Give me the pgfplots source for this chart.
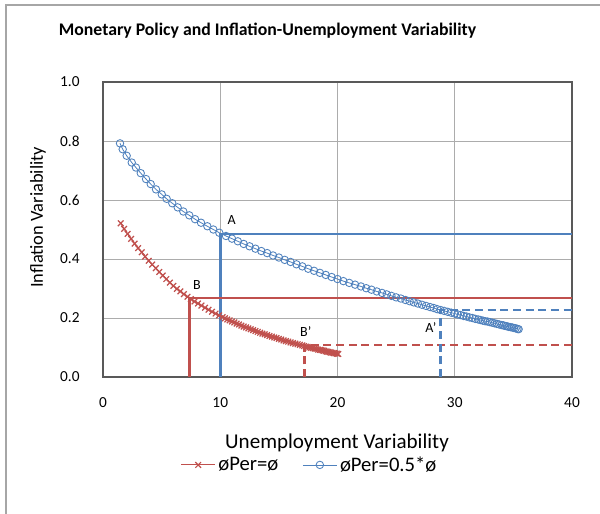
\documentclass[border=0pt]{standalone}
\usepackage{pgfplots}
\pgfplotsset{compat=1.18}
\usepackage{fontspec}
\setmainfont{Carlito}
\definecolor{xlblue}{HTML}{4F81BD}
\definecolor{xlred}{HTML}{C0504D}
\begin{document}
\begin{tikzpicture}
\useasboundingbox (0,0) rectangle (450pt,385.5pt);
\draw[gray!70, line width=0.8pt] (4.5pt,0) -- (4.5pt,381.75pt) -- (450pt,381.75pt);
\node[font=\fontsize{13.3}{15}\selectfont\bfseries] at (200.6pt,362.25pt) {Monetary Policy and Inflation-Unemployment Variability};
\begin{axis}[
  at={(77.25pt,102.75pt)}, anchor=south west,
  width=351.75pt, height=221.25pt, scale only axis,
  xmin=0, xmax=40, ymin=0, ymax=1,
  xtick={0,10,20,30,40}, ytick={0,0.2,0.4,0.6,0.8,1.0},
  yticklabel style={/pgf/number format/fixed, /pgf/number format/precision=1, /pgf/number format/fixed zerofill, xshift=-14pt},
  xticklabel style={yshift=-12pt},
  /pgf/number format/assume math mode=true,
  ticklabel style={font=\fontsize{11.5}{13}\selectfont},
  major tick length=0pt,
  grid=major, grid style={gray!65, line width=0.7pt},
  axis line style={black!65, line width=0.9pt},
  xlabel={Unemployment Variability}, ylabel={Inflation Variability},
  xlabel style={font=\fontsize{15.8}{18}\selectfont, at={(axis description cs:0.499,-0.224)}, anchor=center},
  ylabel style={font=\fontsize{13.8}{16}\selectfont, at={(axis description cs:-0.1386,0.541)}, anchor=center},
  legend style={at={(0.441,-0.298)}, anchor=center, draw=none, fill=none, legend columns=2, font=\fontsize{15.5}{17}\selectfont, /tikz/every even column/.append style={column sep=16pt}},
  legend image code/.code={\draw[mark repeat=2,mark phase=2,#1] plot coordinates {(0cm,0cm)(0.45cm,0cm)(0.9cm,0cm)};},
]
% reference lines
\addplot[xlblue, line width=1.9pt, forget plot] coordinates {(10,0) (10,0.484) (40,0.484)};
\addplot[xlred, line width=1.9pt, forget plot] coordinates {(7.36,0) (7.36,0.268) (40,0.268)};
\addplot[xlred, line width=1.9pt, dash pattern=on 6pt off 3.5pt, forget plot] coordinates {(17.2,0) (17.2,0.108) (40,0.108)};
\addplot[xlblue, line width=1.9pt, dash pattern=on 6pt off 3.5pt, forget plot] coordinates {(28.8,0) (28.8,0.227) (40,0.227)};
% red series
\addplot[xlred, line width=0.8pt, mark=x, mark size=3pt, mark options={line width=0.9pt}] coordinates {
(1.51,0.521) (1.80,0.502) (2.10,0.485) (2.40,0.468) (2.70,0.452) (3.00,0.437) (3.30,0.423) (3.60,0.408) (3.90,0.394) (4.20,0.381)
(4.50,0.369) (4.80,0.356) (5.10,0.344) (5.40,0.332) (5.70,0.320) (6.00,0.309) (6.30,0.299) (6.60,0.290) (6.90,0.281) (7.20,0.272)
(7.50,0.264) (7.80,0.256) (8.10,0.249) (8.40,0.242) (8.70,0.235) (9.00,0.228) (9.30,0.221) (9.60,0.215) (9.90,0.209) (10.20,0.203)
(10.40,0.199) (10.60,0.195) (10.80,0.192) (11.00,0.188) (11.20,0.185) (11.40,0.181) (11.60,0.178) (11.80,0.174) (12.00,0.171) (12.20,0.168)
(12.40,0.165) (12.60,0.162) (12.80,0.159) (13.00,0.156) (13.20,0.153) (13.40,0.150) (13.60,0.147) (13.80,0.145) (14.00,0.142) (14.20,0.139)
(14.40,0.137) (14.60,0.134) (14.80,0.132) (15.00,0.129) (15.20,0.127) (15.40,0.124) (15.60,0.122) (15.80,0.120) (16.00,0.117) (16.20,0.115)
(16.40,0.113) (16.60,0.111) (16.80,0.109) (17.00,0.107) (17.15,0.105) (17.30,0.103) (17.45,0.102) (17.60,0.100) (17.75,0.099) (17.90,0.098)
(18.05,0.096) (18.20,0.095) (18.35,0.093) (18.50,0.092) (18.62,0.091) (18.74,0.090) (18.86,0.089) (18.98,0.087) (19.10,0.086) (19.22,0.085)
(19.34,0.084) (19.46,0.083) (19.58,0.082) (19.70,0.081) (19.82,0.080) (19.94,0.079) (20.07,0.078)
};
\addlegendentry{øPer=ø}
% blue series
\addplot[xlblue, line width=0.6pt, mark=o, mark size=2.8pt, mark options={fill=white, line width=0.65pt}] coordinates {
(1.45,0.792) (1.68,0.772) (2.02,0.750) (2.45,0.727) (2.81,0.710) (3.22,0.691) (3.67,0.671) (4.07,0.654) (4.52,0.636) (5.01,0.619)
(5.43,0.604) (5.91,0.589) (6.37,0.575) (6.85,0.561) (7.36,0.548) (7.85,0.535) (8.36,0.523) (8.90,0.511) (9.41,0.500) (9.92,0.489)
(10.49,0.478) (11.0,0.469) (11.5,0.460) (12.0,0.451) (12.5,0.443) (13.0,0.435) (13.5,0.427) (14.0,0.420) (14.5,0.412) (15.0,0.405)
(15.5,0.397) (16.0,0.390) (16.5,0.382) (17.0,0.375) (17.5,0.367) (18.0,0.360) (18.5,0.353) (19.0,0.346) (19.5,0.339) (20.0,0.332)
(20.5,0.325) (21.0,0.319) (21.5,0.313) (22.0,0.307) (22.45,0.301) (22.9,0.296) (23.35,0.290) (23.8,0.285) (24.2,0.280) (24.6,0.275)
(25.0,0.270) (25.4,0.266) (25.8,0.261) (26.15,0.257) (26.5,0.253) (26.85,0.249) (27.2,0.245) (27.55,0.241) (27.9,0.237) (28.2,0.234)
(28.5,0.230) (28.8,0.227) (29.1,0.224) (29.4,0.221) (29.7,0.218) (30.0,0.215) (30.25,0.212) (30.5,0.210) (30.75,0.207) (31.0,0.205)
(31.25,0.202) (31.5,0.200) (31.75,0.197) (32.0,0.195) (32.2,0.193) (32.4,0.191) (32.6,0.189) (32.8,0.188) (33.0,0.186) (33.2,0.184)
(33.4,0.182) (33.6,0.180) (33.8,0.178) (34.0,0.176) (34.15,0.175) (34.3,0.173) (34.45,0.172) (34.6,0.170) (34.75,0.169) (34.9,0.168)
(35.05,0.166) (35.2,0.165) (35.35,0.163) (35.45,0.162)
};
\addlegendentry{øPer=0.5*ø}
% point labels
\node[font=\fontsize{10.5}{12}\selectfont] at (axis cs:10.98,0.532) {A};
\node[font=\fontsize{10.5}{12}\selectfont] at (axis cs:8.02,0.312) {B};
\node[font=\fontsize{10.5}{12}\selectfont] at (axis cs:17.29,0.154) {B'};
\node[font=\fontsize{10.5}{12}\selectfont] at (axis cs:27.97,0.167) {A'};
\end{axis}
\end{tikzpicture}
\end{document}
